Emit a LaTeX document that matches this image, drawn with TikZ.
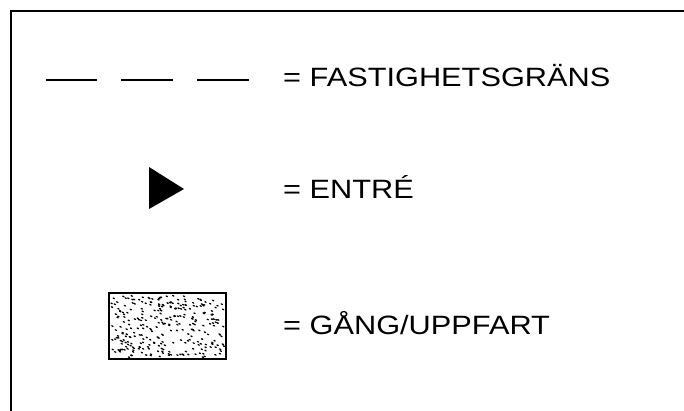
\documentclass[tikz,border=0pt]{standalone}
\usepackage{fontspec}
\setmainfont{Liberation Sans}
\begin{document}
\begin{tikzpicture}[x=1pt,y=-1pt,
  legendtext/.style={anchor=base west, inner sep=0pt, font=\fontsize{26.5}{30}\selectfont},
  frameline/.style={line width=2pt, line cap=rect},
  dashseg/.style={line width=1.4pt}]
\useasboundingbox (0,0) rectangle (684,410);
% frame
\draw[frameline] (684,11) -- (11,11) -- (11,412);
% dashed boundary sample
\draw[dashseg] (46,80) -- (97,80);
\draw[dashseg] (121,80) -- (173,80);
\draw[dashseg] (197,80) -- (249,80);
% entrance triangle
\fill (149,167) -- (184,189) -- (149,209) -- cycle;
% path/driveway textured box
\pgfmathsetseed{7}
\foreach \i in {1,...,300} {
  \pgfmathsetmacro{\px}{111+113*rnd}
  \pgfmathsetmacro{\py}{295+62*rnd}
  \draw[line width=1.3pt, line cap=round] (\px,\py) -- ++(1.2,0.6);
}
\draw[line width=1.6pt] (109,293) rectangle (226,359);
% labels
\node[legendtext] (t1) at (283,86.7) {\scalebox{1.16}[1]{= FASTIGHETSGRÄNS}};
\node[legendtext] (t2) at (283,198.3) {\scalebox{1.16}[1]{= ENTRÉ}};
\node[legendtext] (t3) at (283,334.3) {\scalebox{1.16}[1]{= GÅNG/UPPFART}};
\end{tikzpicture}
\end{document}
